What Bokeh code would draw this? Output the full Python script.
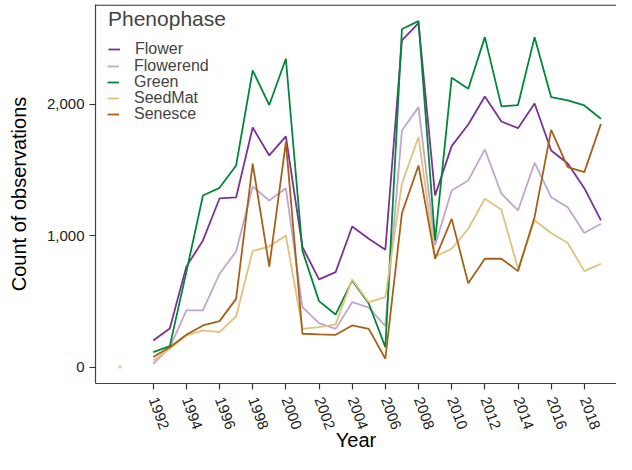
import math
from bokeh.plotting import figure
from bokeh.models import FixedTicker, NumeralTickFormatter, Range1d, Legend, LegendItem, Span
from bokeh.embed import file_html
from bokeh.resources import INLINE

years = list(range(1992, 2020))
flower = [205, 296, 766, 965, 1284, 1292, 1823, 1611, 1756, 915, 669, 724, 1071, 978, 894,
          2485, 2616, 1307, 1682, 1846, 2059, 1869, 1818, 2006, 1649, 1550, 1362, 1117]
flowerend = [28, 151, 434, 434, 712, 881, 1375, 1269, 1362, 459, 337, 293, 496, 454, 314,
             1801, 1978, 928, 1345, 1421, 1657, 1320, 1193, 1556, 1294, 1218, 1021, 1092]
green = [117, 162, 726, 1307, 1365, 1535, 2257, 1994, 2346, 887, 504, 402, 660, 486, 154,
         2572, 2632, 965, 2201, 2118, 2510, 1984, 1994, 2510, 2054, 2029, 1991, 1890]
seedmat = [53, 142, 243, 281, 268, 387, 884, 920, 1003, 293, 307, 327, 669, 496, 534,
           1398, 1751, 843, 902, 1054, 1282, 1198, 750, 1117, 1021, 945, 732, 788]
senesce = [79, 154, 248, 319, 352, 521, 1548, 767, 1712, 256, 251, 248, 319, 293, 66,
           1173, 1535, 826, 1129, 640, 826, 826, 732, 1143, 1805, 1522, 1484, 1851]
seedmat_extra_year = [1990]
seedmat_extra_value = [3]

names = ["Flower", "Flowerend", "Green", "SeedMat", "Senesce"]
colors = ["#7b3294", "#c2a5cf", "#008837", "#dfc27d", "#a6611a"]
series = [flower, flowerend, green, seedmat, senesce]
x_ticks = list(range(1992, 2019, 2))
y_ticks = [0, 1000, 2000]

p = figure(width=616, height=454, output_backend="svg", toolbar_location=None,
           x_range=Range1d(1988.52, 2019.94), y_range=Range1d(-122, 2758),
           min_border_left=95, min_border_right=0, min_border_top=4, min_border_bottom=71)
p.background_fill_color = "white"
p.border_fill_color = "white"
p.outline_line_color = None
p.xgrid.visible = False
p.ygrid.visible = False

p.add_layout(Span(location=2754, dimension="width", line_color="#333333", line_width=1.2))

items = []
for name, col, vals in zip(names, colors, series):
    r = p.line(years, vals, line_color=col, line_width=1.8)
    items.append(LegendItem(label=name, renderers=[r]))
p.scatter(seedmat_extra_year, seedmat_extra_value, size=2.5, color=colors[3], alpha=0.7)

font = "Liberation Sans"
for ax in (p.xaxis[0], p.yaxis[0]):
    ax.axis_line_color = "#444444"
    ax.axis_line_width = 1.2
    ax.major_tick_line_color = "#333333"
    ax.major_tick_line_width = 1.2
    ax.major_tick_out = 6
    ax.major_tick_in = 0
    ax.minor_tick_line_color = None
    ax.major_label_text_font = font
    ax.major_label_text_font_size = "15px"
    ax.major_label_text_color = "#222222"
    ax.axis_label_text_font = font
    ax.axis_label_text_font_size = "20px"
    ax.axis_label_text_font_style = "normal"
    ax.axis_label_text_color = "black"

p.xaxis.ticker = FixedTicker(ticks=x_ticks)
p.yaxis.ticker = FixedTicker(ticks=y_ticks)
p.yaxis.formatter = NumeralTickFormatter(format="0,0")
p.xaxis.major_label_orientation = -70 * math.pi / 180
p.xaxis.major_label_standoff = 8
p.yaxis.major_label_standoff = 5
p.xaxis.axis_label = "Year"
p.yaxis.axis_label = "Count of observations"
p.xaxis.axis_label_standoff = -6
p.yaxis.axis_label_standoff = 14


def make_legend(item, loc, title=None, padding=0):
    lg = Legend(items=[item], location=loc)
    if title:
        lg.title = title
        lg.title_text_font = font
        lg.title_text_font_size = "21px"
        lg.title_text_font_style = "normal"
        lg.title_standoff = 9
    lg.label_text_font = font
    lg.label_text_font_size = "16px"
    lg.label_height = 16
    lg.glyph_height = 16
    lg.glyph_width = 12
    lg.label_standoff = 15
    lg.spacing = 0
    lg.padding = padding
    lg.margin = 0
    lg.border_line_color = None
    lg.background_fill_alpha = 0.0
    p.add_layout(lg)
    return lg


# legend block positions (screen px from frame bottom-left)
legend_locs = [(13, 325), (12, 308), (12, 292), (12, 276), (12, 260)]
make_legend(items[0], legend_locs[0], title="Phenophase", padding=4)
for it, loc in zip(items[1:], legend_locs[1:]):
    make_legend(it, loc)

open("out.html", "w").write(file_html(p, INLINE))
